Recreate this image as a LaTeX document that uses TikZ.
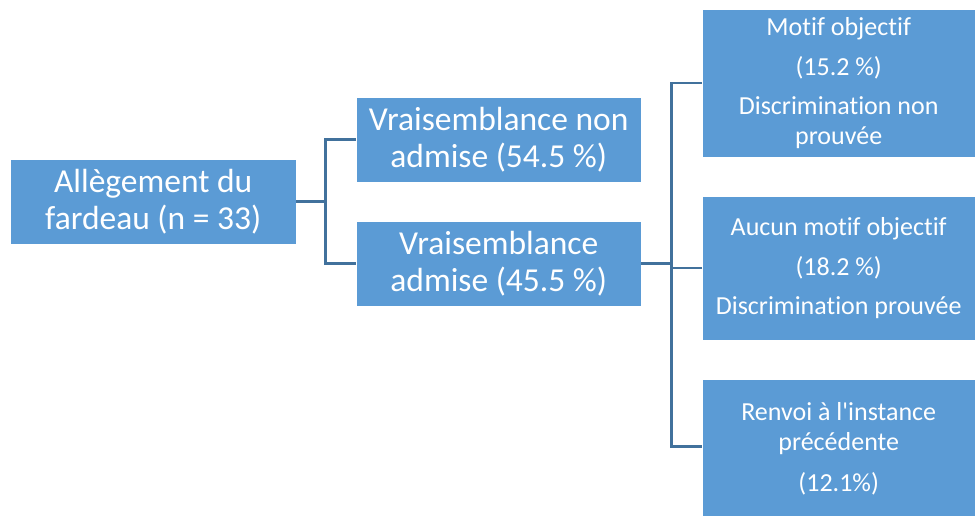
\documentclass[tikz,border=0pt]{standalone}
\usepackage{fontspec}
\setmainfont{Carlito}[Ligatures={NoCommon,TeXOff}]
\usepackage{tikz}
\usetikzlibrary{positioning,calc}
\definecolor{boxblue}{HTML}{5B9BD5}
\definecolor{lineblue}{HTML}{41719C}
\tikzset{
  big box/.style={
    draw=white,
    fill=boxblue,
    text=white,
    inner sep=0pt,
    anchor=north west,
    align=center,
    minimum width=285pt,
    minimum height=85pt,
    font=\fontsize{33.5}{37}\selectfont
  },
  small box/.style={
      big box,
      minimum width=273pt,
      font=\fontsize{26}{30}\selectfont
  },
  branch/.style={
    draw=lineblue,
    line width=2.5pt
  }
}

\begin{document}
\begin{tikzpicture}[x=1pt, y=-1pt]
 \useasboundingbox (0,0) rectangle (975,516);

 \node[big box, minimum width=286pt] (fardeau) at (10,159) {Allègement du\\fardeau (n = 33)};
 \node[big box] (nonadmise) at (356,97) {Vraisemblance non\\admise (54.5 \%)};
 \node[big box] (admise) at (356,221) {Vraisemblance\\admise (45.5 \%)};

 \node[small box, minimum height=148pt] (motif) at (702,9)
   {Motif objectif\\[10pt](15.2 \%)\\[9pt]Discrimination non\\prouvée};
 \node[small box, minimum height=144pt] (aucun) at (702,196)
   {Aucun motif objectif\\[10pt](18.2 \%)\\[9pt]Discrimination prouvée};
 \node[small box, minimum height=140pt] (renvoi) at (702,379)
   {Renvoi à l'instance\\précédente\\[11pt](12.1\%)};

 % first split
 \draw[branch] (fardeau.east) -- ++(29,0) coordinate (s1);
 \draw[branch] (nonadmise.west) -| (s1) |- (admise.west);

 % second split
 \draw[branch] (admise.east) -- ++(30,0) coordinate (s2);
 \draw[branch] (motif.west) -| (s2) |- ($(renvoi.north west)!0.48!(renvoi.south west)$);
 \draw[branch] (aucun.west) -- (aucun.west -| s2);
\end{tikzpicture}
\end{document}
